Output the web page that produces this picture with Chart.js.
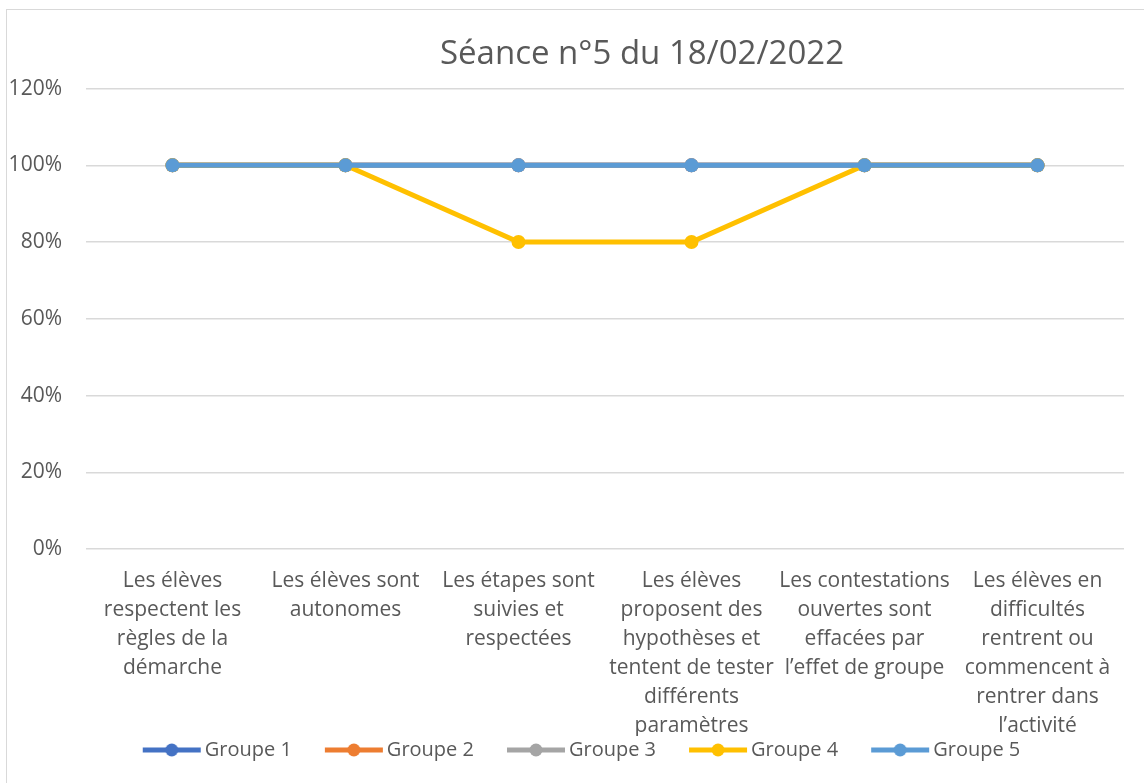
<!DOCTYPE html>
<html>
<head>
<meta charset="utf-8">
<script src="https://cdn.jsdelivr.net/npm/chart.js@4"></script>
<style>
html,body{margin:0;padding:0;background:#fff;overflow:hidden;}
#wrap{position:absolute;left:0;top:0;width:1144px;height:783px;}
#frame{position:absolute;left:6px;top:9px;width:1150px;height:800px;border:1px solid #d9d9d9;box-sizing:border-box;}
canvas{position:absolute;left:0;top:0;}
</style>
</head>
<body>
<div id="wrap"><div id="frame"></div><canvas id="c" width="1144" height="783"></canvas></div>
<script>
const titleText = "Séance n°5 du 18/02/2022";
const categories = [
  ["Les élèves","respectent les","règles de la","démarche"],
  ["Les élèves sont","autonomes"],
  ["Les étapes sont","suivies et","respectées"],
  ["Les élèves","proposent des","hypothèses et","tentent de tester","différents","paramètres"],
  ["Les contestations","ouvertes sont","effacées par","l’effet de groupe"],
  ["Les élèves en","difficultés","rentrent ou","commencent à","rentrer dans","l’activité"]
];
const seriesNames = ["Groupe 1","Groupe 2","Groupe 3","Groupe 4","Groupe 5"];
const groupe1 = [1, 1, 1, 1, 1, 1];
const groupe2 = [1, 1, 1, 1, 1, 1];
const groupe3 = [1, 1, 1, 1, 1, 1];
const groupe4 = [1, 1, 0.8, 0.8, 1, 1];
const groupe5 = [1, 1, 1, 1, 1, 1];
const yTicks = [0, 0.2, 0.4, 0.6, 0.8, 1.0, 1.2];

const seriesValues = [groupe1, groupe2, groupe3, groupe4, groupe5];
const colors = ["#4472C4","#ED7D31","#A5A5A5","#FFC000","#5B9BD5"];
const FONT = "'Open Sans', sans-serif";
const TXT = "#595959";

// legend icon: line + marker, drawn at the right end of a wider transparent image
const BOXW = 81;
function legendIcon(color){
  const cv = document.createElement('canvas');
  cv.width = BOXW + 16; cv.height = 16;
  const g = cv.getContext('2d');
  const x1 = cv.width - 60, x2 = cv.width - 2;
  g.strokeStyle = color; g.lineWidth = 5; g.lineCap = 'butt';
  g.beginPath(); g.moveTo(x1,8); g.lineTo(x2,8); g.stroke();
  g.fillStyle = color; g.beginPath(); g.arc((x1+x2)/2,8,6.5,0,Math.PI*2); g.fill();
  return cv;
}
const icons = colors.map(legendIcon);

const datasets = seriesNames.map((name,i)=>({
  label: name,
  data: seriesValues[i],
  borderColor: colors[i],
  backgroundColor: colors[i],
  borderWidth: 5,
  pointRadius: 7,
  pointHoverRadius: 7,
  pointBorderWidth: 0,
  tension: 0,
  order: seriesNames.length - 1 - i
}));

const shiftBoxes = {
  id: 'shiftBoxes',
  afterLayout(chart){
    if (chart.titleBlock){ chart.titleBlock.left += 160; }
    if (chart.legend){ chart.legend.left += 10; }
  }
};

new Chart(document.getElementById('c'), {
  type: 'line',
  data: { labels: categories, datasets },
  plugins: [shiftBoxes],
  options: {
    responsive: false,
    animation: false,
    devicePixelRatio: 1,
    layout: { padding: { left: 0, right: 20, top: 0, bottom: 13 } },
    plugins: {
      title: {
        display: true,
        text: titleText,
        color: TXT,
        font: { family: FONT, size: 33, weight: 'normal' },
        padding: { top: 35, bottom: 14 }
      },
      legend: {
        position: 'bottom',
        labels: {
          color: TXT,
          font: { family: FONT, size: 20 },
          usePointStyle: true,
          pointStyleWidth: BOXW,
          boxHeight: 14,
          padding: 4,
          generateLabels(chart){
            return seriesNames.map((n,i)=>({
              text: n, fillStyle: colors[i], strokeStyle: colors[i],
              pointStyle: icons[i], lineWidth: 0, hidden: false, datasetIndex: i,
              fontColor: TXT
            }));
          }
        }
      },
      tooltip: { enabled: false }
    },
    scales: {
      x: {
        offset: true,
        grid: { display: false, drawTicks: false, offset: true },
        border: { display: false },
        ticks: {
          color: TXT, font: { family: FONT, size: 21, lineHeight: 1.381 },
          padding: 18, maxRotation: 0, autoSkip: false
        },
        afterFit(s){ s.height = 187; }
      },
      y: {
        min: 0, max: 1.2,
        afterBuildTicks(s){ s.ticks = yTicks.map(v=>({value:v})); },
        grid: { color: '#d9d9d9', lineWidth: 1.5, drawTicks: false },
        border: { display: false },
        ticks: {
          color: TXT, font: { family: FONT, size: 21 }, padding: 24,
          callback: v => Math.round(v*100) + '%'
        },
        afterFit(s){ s.width = 86; }
      }
    }
  }
});
</script>
</body>
</html>
